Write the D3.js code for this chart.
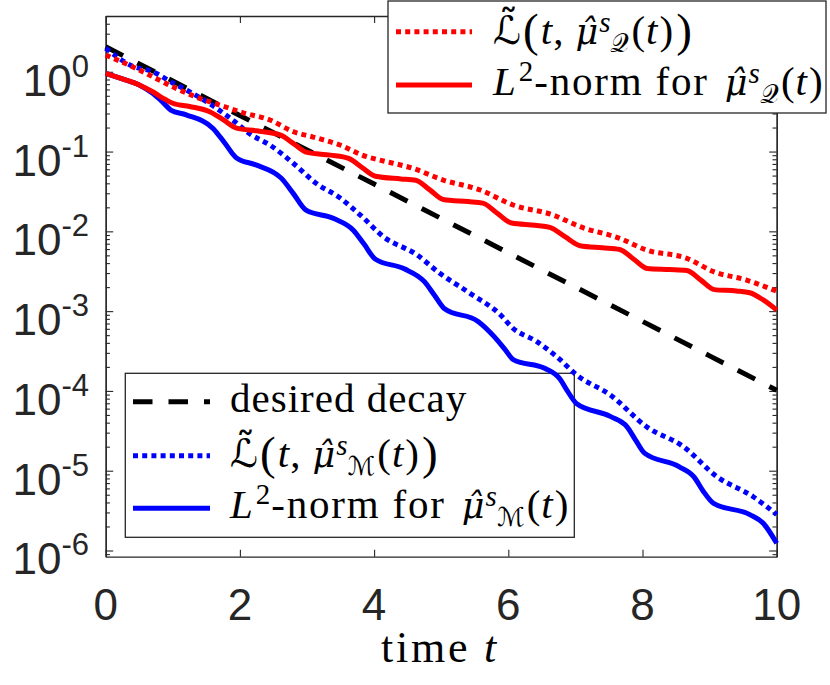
<!DOCTYPE html>
<html><head><meta charset="utf-8">
<script src="https://cdn.jsdelivr.net/npm/d3@7/dist/d3.min.js"></script>
<style>body{margin:0;background:#fff}svg{display:block}</style>
</head><body>
<script>
// ---------- data ----------
const xTicks = [0, 2, 4, 6, 8, 10];
const yTickExps = [0, -1, -2, -3, -4, -5, -6];

const tDesired = [0,1,2,3,4,5,6,7,8,9,10];
const vDesired = [2.06,0.764,0.283,0.105,0.0391,0.0145,0.00538,0.0020,0.000743,0.000275,0.000102];

const tLtM = [0,0.4,0.7,1.0,1.25,1.55,1.9,2.15,2.45,2.8,3.14,3.49,3.8,4.14,4.63,4.98,5.43,5.9,6.05,6.42,6.72,7.02,7.52,8.06,8.61,9.11,9.65,10];
const vLtM = [1.972,1.175,1.0,0.724,0.562,0.398,0.2455,0.166,0.1202,0.0708,0.0398,0.0263,0.01585,0.00855,0.00513,0.00298,0.00167,0.000871,0.000631,0.000417,0.000269,0.000158,8.89e-5,3.56e-5,2.0e-5,8.41e-6,4.72e-6,2.82e-6];

const tL2M = [0,0.25,0.5,0.7,0.85,0.97,1.2,1.6,1.78,1.95,2.25,2.62,2.8,2.98,3.4,3.69,3.85,4.02,4.45,4.75,4.9,5.05,5.55,5.8,5.95,6.08,6.55,6.77,6.88,7.02,7.52,7.77,7.9,8.03,8.55,8.77,8.9,9.06,9.6,9.8,10];
const vL2M = [0.955,0.813,0.684,0.537,0.417,0.331,0.288,0.195,0.126,0.0832,0.0676,0.0461,0.0295,0.0186,0.01445,0.01035,0.00692,0.00447,0.00339,0.00234,0.00158,0.00107,0.000741,0.000468,0.000331,0.000245,0.000191,0.000141,0.0001,6.92e-5,4.79e-5,3.55e-5,2.40e-5,1.66e-5,1.12e-5,8.32e-6,5.62e-6,3.89e-6,2.82e-6,2.19e-6,1.23e-6];

const tLtQ = [0,0.4,0.75,1.05,1.4,1.7,2.05,2.45,2.8,3.08,3.49,3.89,4.1,4.58,5.03,5.58,6.07,6.67,7.07,7.66,8.06,8.66,9.06,9.55,10];
const vLtQ = [1.618,1.156,0.826,0.619,0.4645,0.3828,0.3062,0.2483,0.1770,0.1531,0.1208,0.0861,0.0776,0.0615,0.0440,0.0330,0.0214,0.0160,0.01143,0.00817,0.00583,0.00459,0.00312,0.00245,0.00178];

const tL2Q = [0,0.25,0.5,0.7,0.85,1.0,1.25,1.55,1.75,1.95,2.25,2.6,2.8,3.0,3.35,3.62,3.82,4.02,4.4,4.62,4.83,5.03,5.4,5.62,5.83,6.05,6.4,6.62,6.85,7.07,7.4,7.66,7.87,8.07,8.4,8.66,8.87,9.07,9.4,9.6,9.8,10];
const vL2Q = [0.955,0.813,0.684,0.562,0.468,0.403,0.367,0.316,0.251,0.197,0.182,0.162,0.126,0.0977,0.0902,0.0822,0.0631,0.0490,0.0454,0.0437,0.0331,0.0251,0.0236,0.0226,0.0170,0.0127,0.0119,0.0112,0.00851,0.00661,0.00621,0.00592,0.00447,0.00343,0.00333,0.00324,0.00245,0.00186,0.00179,0.00170,0.00138,0.00103];

// ---------- layout ----------
const W = 830, H = 685;
const X0 = 105.7, X1 = 776.7, Y0 = 16, Y1 = 556.7;
const AX = '#262626';
const SERIF = "'Liberation Serif','Times New Roman',serif";
const SCRIPT = "'DejaVu Serif','DejaVu Sans',serif";
const SANS = "'Liberation Sans',Arial,Helvetica,sans-serif";
const LW = 5;
const DOT = '5,4.2';
const DASH = '19.5,16';

const svg = d3.select('body').append('svg').attr('width', W).attr('height', H);
const x = d3.scaleLinear().domain([0, 10]).range([X0, X1]);
const y = d3.scaleLog().domain([8.36e-7, 5]).range([Y1, Y0]);

// ---------- axes ----------
const yMajor = yTickExps.map(e => Math.pow(10, e));
const yMinor = [];
for (let e = -7; e <= 0; e++) for (let m = 2; m <= 9; m++) {
  const v = m * Math.pow(10, e);
  if (v >= y.domain()[0] && v <= y.domain()[1]) yMinor.push(v);
}
function styleAxis(g) {
  g.select('.domain').attr('stroke', AX).attr('stroke-width', 1.3);
  g.selectAll('.tick line').attr('stroke', AX).attr('stroke-width', 1.1);
  g.selectAll('.tick text').remove();
}
svg.append('g').attr('transform', `translate(0,${Y1})`)
  .call(d3.axisBottom(x).tickValues(xTicks).tickSize(-7).tickSizeOuter(0).tickFormat('')).call(styleAxis);
svg.append('g').attr('transform', `translate(0,${Y0})`)
  .call(d3.axisTop(x).tickValues(xTicks).tickSize(-7).tickSizeOuter(0).tickFormat('')).call(styleAxis);
svg.append('g').attr('transform', `translate(${X0},0)`)
  .call(d3.axisLeft(y).tickValues(yMajor).tickSize(-7.5).tickSizeOuter(0).tickFormat('')).call(styleAxis);
svg.append('g').attr('transform', `translate(${X0},0)`)
  .call(d3.axisLeft(y).tickValues(yMinor).tickSize(-4.2).tickSizeOuter(0).tickFormat('')).call(styleAxis);
svg.append('g').attr('transform', `translate(${X1},0)`)
  .call(d3.axisRight(y).tickValues(yMajor).tickSize(-7.5).tickSizeOuter(0).tickFormat('')).call(styleAxis);
svg.append('g').attr('transform', `translate(${X1},0)`)
  .call(d3.axisRight(y).tickValues(yMinor).tickSize(-4.2).tickSizeOuter(0).tickFormat('')).call(styleAxis);

// x tick labels
svg.append('g').selectAll('text').data(xTicks).join('text')
  .attr('x', d => x(d)).attr('y', Y1 + 63.5)
  .attr('text-anchor', 'middle')
  .style('font-family', SANS).style('font-size', '44px').style('fill', AX)
  .text(d => d);

// y tick labels 10^e
const yl = svg.append('g').selectAll('text').data(yTickExps).join('text')
  .attr('x', 89).attr('y', d => y(Math.pow(10, d)) + 24)
  .attr('text-anchor', 'end')
  .style('font-family', SANS).style('font-size', '44px').style('fill', AX);
yl.append('tspan').text('10');
yl.append('tspan').attr('dy', -19).style('font-size', '31px').text(d => d === 0 ? '0' : '-' + (-d));

// x label
const xl = svg.append('text').attr('x', 440).attr('y', 662).attr('text-anchor', 'middle')
  .style('font-family', SERIF).style('font-size', '44px').style('letter-spacing', '2.8px').style('fill', '#000');
xl.append('tspan').text('time\u00A0');
xl.append('tspan').style('font-style', 'italic').text('t');

// ---------- legend boxes (white, under the curves) ----------
function box(x0, y0, x1, y1) {
  svg.append('rect').attr('x', x0).attr('y', y0).attr('width', x1 - x0).attr('height', y1 - y0)
    .attr('fill', '#fff').attr('stroke', AX).attr('stroke-width', 1.3);
}
box(388, 1, 826, 113);
box(125.3, 373.3, 574.3, 537.3);

// ---------- curves ----------
const series = [
  {t: tDesired, v: vDesired, color: '#000', dash: DASH, curve: d3.curveLinear},
  {t: tLtM, v: vLtM, color: '#0000ff', dash: DOT, curve: d3.curveMonotoneX},
  {t: tL2M, v: vL2M, color: '#0000ff', dash: null, curve: d3.curveMonotoneX},
  {t: tLtQ, v: vLtQ, color: '#ff0000', dash: DOT, curve: d3.curveMonotoneX},
  {t: tL2Q, v: vL2Q, color: '#ff0000', dash: null, curve: d3.curveMonotoneX}
];
series.forEach(s => {
  const pts = s.t.map((t, i) => [t, s.v[i]]);
  const line = d3.line().x(d => x(d[0])).y(d => y(d[1])).curve(s.curve);
  svg.append('path').datum(pts).attr('d', line)
    .attr('fill', 'none').attr('stroke', s.color).attr('stroke-width', LW)
    .attr('stroke-dasharray', s.dash).attr('stroke-linejoin', 'round');
});

// ---------- legend contents ----------
function sample(x0, x1, yy, color, dash) {
  svg.append('line').attr('x1', x0).attr('x2', x1).attr('y1', yy).attr('y2', yy)
    .attr('stroke', color).attr('stroke-width', LW).attr('stroke-dasharray', dash);
}
// one <text> per legend label; pieces are placed tspans (accents as combining marks)
function rich(px, py, parts) {
  const t = svg.append('text').style('font-family', SERIF).style('font-size', '41px').style('fill', '#000');
  let cx = px;
  parts.forEach(p => {
    if (p.gap !== undefined) { cx += p.gap; return; }
    const s = t.append('tspan').attr('x', cx).attr('y', py + (p.dy || 0))
      .style('font-family', p.ff || SERIF).style('font-size', (p.fs || 41) + 'px')
      .style('font-style', p.it ? 'italic' : 'normal')
      .style('letter-spacing', p.ls !== undefined ? p.ls + 'px' : '0px')
      .text(p.s);
    cx += s.node().getComputedTextLength() + (p.after || 0);
  });
}
const MU = {s: '\u03BC\u0302', it: true, ff: "'DejaVu Serif',serif", fs: 35, after: 1};
function lTilde(sub) {
  return [
    {s: '\u2112\u0303', ff: SCRIPT, fs: 39, after: 2},
    {s: '(', fs: 47, dy: 2, after: 2},
    {s: 't', it: true, after: 1},
    {s: ','},
    {gap: 12},
    MU,
    {s: 's', it: true, fs: 29, dy: -12, after: 0},
    {s: sub, ff: SCRIPT, fs: 26, dy: 8, after: 2},
    {s: '(', after: 1}, {s: 't', it: true, after: 2}, {s: ')', after: 3},
    {s: ')', fs: 47, dy: 2}
  ];
}
function l2(sub) {
  return [
    {s: 'L', it: true, after: 3},
    {s: '2', fs: 29, dy: -14, after: 1},
    {s: '-norm for\u00A0', ls: 1.8},
    {gap: 4},
    MU,
    {s: 's', it: true, fs: 29, dy: -12, after: 0},
    {s: sub, ff: SCRIPT, fs: 26, dy: 8, after: 2},
    {s: '(', after: 1}, {s: 't', it: true, after: 2}, {s: ')'}
  ];
}

// top-right legend
sample(396, 472, 31.7, '#ff0000', DOT);
sample(396, 472, 85, '#ff0000', null);
rich(493, 44, lTilde('\uD835\uDCAC'));
rich(493, 95, l2('\uD835\uDCAC'));

// bottom-left legend
sample(133, 210, 401.7, '#000', DASH);
sample(133, 210, 455.7, '#0000ff', DOT);
sample(133, 210, 508.3, '#0000ff', null);
svg.append('text').attr('x', 230).attr('y', 411.7)
  .style('font-family', SERIF).style('font-size', '41px').style('letter-spacing', '1px').text('desired decay');
rich(230, 467, lTilde('\u2133'));
rich(230, 518.3, l2('\u2133'));
</script>
</body></html>
